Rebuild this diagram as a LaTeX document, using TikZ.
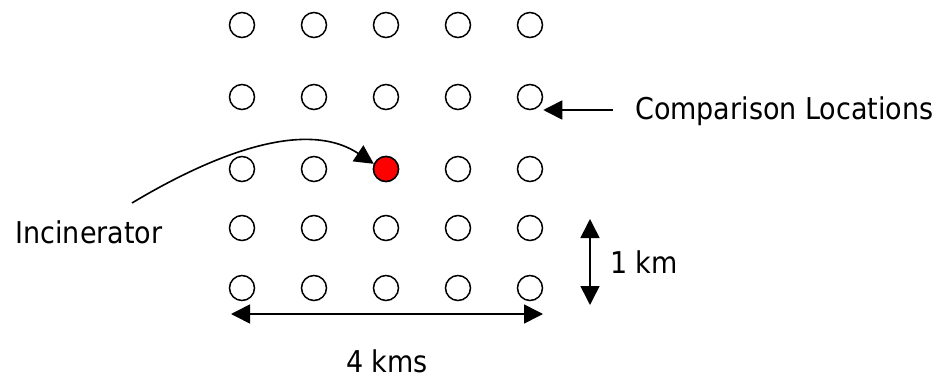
\documentclass[tikz,border=0pt]{standalone}
\usepackage{fontspec}
\setmainfont{DejaVu Sans Condensed}
\usetikzlibrary{arrows.meta}
\begin{document}
\begin{tikzpicture}[x=1pt,y=-1pt,
  loc/.style={circle, draw, line width=1.5pt, minimum size=25pt, inner sep=0pt},
  incloc/.style={loc, fill=red},
  lbl/.style={font=\fontsize{30}{36}\selectfont, inner sep=0pt},
  arr/.style={line width=1.6pt, -{Triangle[length=19pt,width=19pt]}},
  dblarr/.style={line width=1.6pt, {Triangle[length=19pt,width=19pt]}-{Triangle[length=19pt,width=19pt]}}]
\useasboundingbox (0,0) rectangle (948,380);
\foreach \r/\y in {1/25,2/97,3/169,4/228,5/288}{
  \foreach \c/\x in {1/242,2/314,3/386,4/458,5/530}{
    \node[loc] (c\r\c) at (\x,\y) {};
  }
}
\node[incloc] at (c33) {};
\node[lbl, anchor=west] (cmp) at (635,111) {Comparison Locations};
\coordinate (cl) at (613,110);
\draw[arr] (cl) -- (cl -| c25.east);
\node[lbl] (inc) at (89,232) {Incinerator};
\coordinate (ic) at (132,203);
\draw[arr] (ic) .. controls (212,155) and (305,118) .. (c33.157);
\coordinate (vt) at (590,219);
\coordinate (vb) at (590,305);
\draw[dblarr] (vt) -- (vb);
\node[lbl, anchor=west] (km) at (610,262) {1 km};
\coordinate (hl) at (231,314);
\coordinate (hr) at (543,314);
\draw[dblarr] (hl) -- (hr);
\node[lbl] (kms) at (387,361) {4 kms};
\end{tikzpicture}
\end{document}
